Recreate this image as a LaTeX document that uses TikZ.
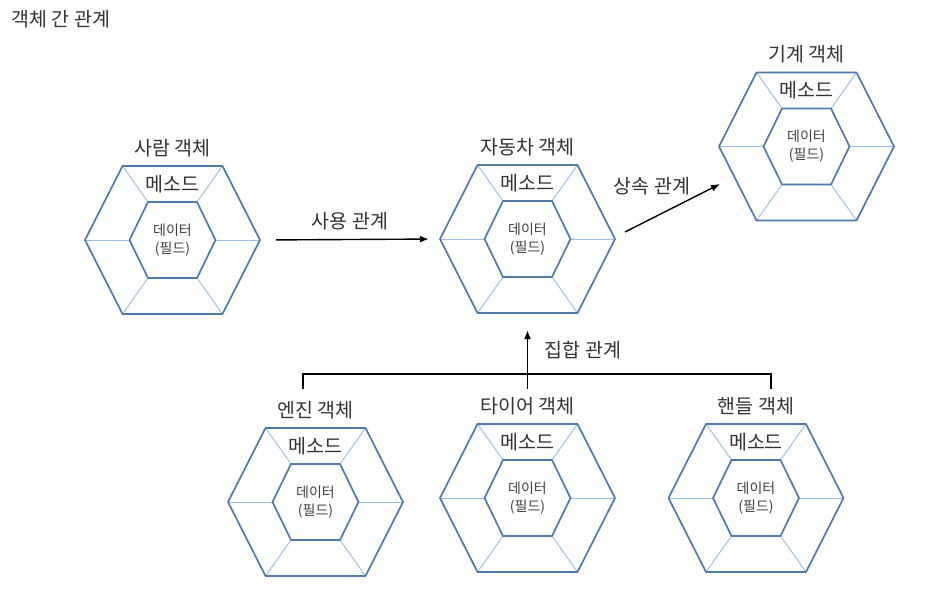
\documentclass[tikz,border=0pt]{standalone}
\usepackage{fontspec}
\setmainfont{Noto Sans CJK KR}
\usetikzlibrary{arrows.meta,positioning,calc}

\definecolor{hexline}{RGB}{78,122,172}
\definecolor{spokeline}{RGB}{150,190,230}

\tikzset{
  hexbox/.style={minimum width=175pt, minimum height=148pt, inner sep=0pt},
  outerhex/.style={draw=hexline, line width=1.7pt, line join=round},
  spoke/.style={draw=spokeline, line width=0.9pt},
  objlabel/.style={font=\fontsize{19.5}{23}\selectfont, text=black!80},
  methodlabel/.style={font=\fontsize{19.5}{23}\selectfont, text=black!80},
  datalabel/.style={font=\fontsize{14}{18}\selectfont, text=black!75, align=center},
  rel/.style={-{Latex[length=9pt,width=7pt]}, line width=1.4pt},
  relline/.style={line width=1.4pt},
}

% one object: name, centre, title
\newcommand\objhex[3]{%
  \node[hexbox] (#1) at (#2) {};
  \begin{scope}[shift={(#2)}]
    \foreach \ox/\oy/\ix/\iy in {-87.5/0/-43/0, -50/-74/-24.5/-38, 50/-74/24.5/-38,
                                 87.5/0/43/0, 50/74/24.5/38, -50/74/-24.5/38}
      \draw[spoke] (\ox,\oy) -- (\ix,\iy);
    \draw[outerhex] (-87.5,0) -- (-50,-74) -- (50,-74) -- (87.5,0) -- (50,74) -- (-50,74) -- cycle;
    \draw[outerhex] (-43,0) -- (-24.5,-38) -- (24.5,-38) -- (43,0) -- (24.5,38) -- (-24.5,38) -- cycle;
    \node[objlabel] (#1-title) at (0,-92) {#3};
    \node[methodlabel] (#1-method) at (0,-56) {메소드};
    \node[datalabel] (#1-data) at (0,0) {데이터\\(필드)};
  \end{scope}%
}

\begin{document}
\begin{tikzpicture}[x=1pt, y=-1pt]
  \useasboundingbox (0,0) rectangle (933,589);

  \node[objlabel, anchor=west] (title) at (8,19) {객체 간 관계};

  \objhex{person}{172.5,240}{사람 객체}
  \objhex{car}{527.5,239}{자동차 객체}
  \objhex{machine}{806.5,146.5}{기계 객체}
  \objhex{engine}{315.5,502}{엔진 객체}
  \objhex{tire}{527.5,498}{타이어 객체}
  \objhex{handle}{756,498}{핸들 객체}

  % use
  \draw[rel, shorten <=16pt, shorten >=11pt] (person.east) -- (car.west)
    node[midway, above=5pt, objlabel] (use) {사용 관계};

  % inheritance
  \coordinate (inhS) at (625,232);
  \coordinate (inhE) at (720,184);
  \draw[rel] (inhS) -- (inhE);
  \node[objlabel] (inh) at (652,186) {상속 관계};

  % aggregation
  \coordinate (aggL) at (303,389);
  \coordinate (aggR) at (771,389);
  \coordinate (aggM) at (527.5,389);
  \draw[relline] (aggL) -- (303,374) -- (771,374) -- (aggR);
  \draw[rel, shorten >=17pt] (aggM) -- (car.south);
  \node[objlabel] (agg) at (583,350) {집합 관계};
\end{tikzpicture}
\end{document}
